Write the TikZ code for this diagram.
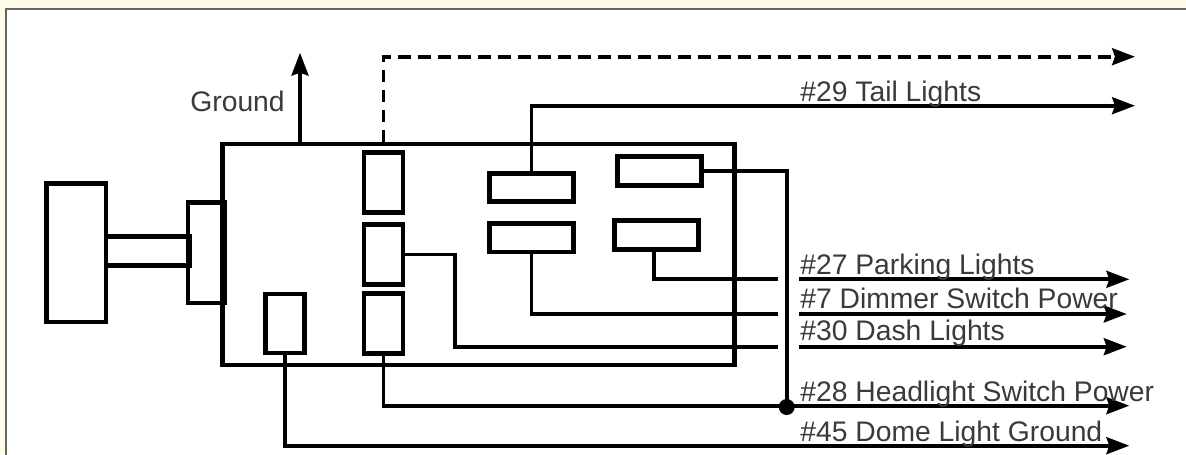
\documentclass[tikz,border=0pt]{standalone}
\usepackage{fontspec}
\setmainfont{Liberation Sans}
\usetikzlibrary{arrows.meta}
\definecolor{cream}{HTML}{FFFBEB}
\definecolor{labelgray}{HTML}{3A3A3A}
\newcommand{\px}{0.02cm}
\tikzset{
    part/.style={draw,line width=2.8pt,inner sep=0pt,outer sep=0pt},
    wire/.style={line width=2.1pt},
    lead/.style={wire,-{Stealth[length=13pt,width=9.6pt,inset=1.6pt]}},
    label/.style={anchor=base west,inner sep=0pt,text=labelgray,font=\fontsize{16.1}{18}\selectfont}
}
\begin{document}
\begin{tikzpicture}[x=0.02cm,y=-0.02cm]
        \useasboundingbox (0,0) rectangle (1186,454);
        %% Page
        \fill[cream] (0,0) rectangle (1186,454);
        \fill[white] (6,9) rectangle (1190,460);
        \draw[line width=0.9pt,black!60] (6,460) |- (1190,9);
        %% Switch body
        \node[part,minimum width=511.6*\px,minimum height=221*\px] (body) at (478.5,254.5) {};
        \node[part,minimum width=59.2*\px,minimum height=138.8*\px] (knob) at (76.4,252.6) {};
        \node[part,minimum width=83.5*\px,minimum height=28.3*\px] (shaft) at (147.75,251) {};
        \node[part,minimum width=36.5*\px,minimum height=100.5*\px] (collar) at (206.25,252.75) {};
        %% Contacts
        \node[part,minimum width=38.7*\px,minimum height=59*\px] (dome) at (285.15,323.5) {};
        \node[part,minimum width=39*\px,minimum height=60*\px] (spare) at (383.5,182.5) {};
        \node[part,minimum width=39*\px,minimum height=59.4*\px] (dash) at (383.5,254.5) {};
        \node[part,minimum width=39*\px,minimum height=59.7*\px] (power) at (383.5,323.65) {};
        \node[part,minimum width=84*\px,minimum height=28.3*\px] (tail) at (531.5,187.35) {};
        \node[part,minimum width=84*\px,minimum height=28.5*\px] (dimmer) at (531.5,237.75) {};
        \node[part,minimum width=84*\px,minimum height=28.7*\px] (head) at (659.5,171.15) {};
        \node[part,minimum width=84*\px,minimum height=29*\px] (park) at (656.8,235.3) {};
        %% Wire ends
        \coordinate (groundstart) at (300,144);
        \coordinate (groundend) at (300,52.7);
        \coordinate (spareend) at (1135,56.7);
        \coordinate (tailend) at (1135,105.7);
        \coordinate (parkgap) at (778,279.3);
        \coordinate (parkstart) at (799,279.3);
        \coordinate (parkend) at (1129.3,279.3);
        \coordinate (dimmergap) at (778,314);
        \coordinate (dimmerstart) at (799,314);
        \coordinate (dimmerend) at (1126.7,314);
        \coordinate (dashbend) at (455,346.7);
        \coordinate (dashgap) at (778,346.7);
        \coordinate (dashstart) at (799,346.7);
        \coordinate (dashend) at (1126.7,346.7);
        \coordinate (powerend) at (1129.3,405.7);
        \coordinate (domeend) at (1129.3,445.7);
        \node[circle,fill=black,minimum size=16*\px,inner sep=0pt] (joint) at (786.7,407) {};
        %% Wires
        \draw[lead] (groundstart) -- (groundend);
        \draw[lead,dash pattern=on 12.5*\px off 7.5*\px,dash phase=9.5*\px] (spare.north) |- (spareend);
        \draw[lead] (tail.north) |- (tailend);
        \draw[wire] ([xshift=-2.8*\px]park.south) |- (parkgap);
        \draw[lead] (parkstart) -- (parkend);
        \draw[wire] (dimmer.south) |- (dimmergap);
        \draw[lead] (dimmerstart) -- (dimmerend);
        \draw[wire] (dash.east) -| (dashbend) -- (dashgap);
        \draw[lead] (dashstart) -- (dashend);
        \draw[lead] (power.south) |- (powerend);
        \draw[lead] (dome.south) |- (domeend);
        \draw[wire] (head.east) -| (joint.center);
        %% Labels
        \node[label] (groundtext) at (190,111.7) {Ground};
        \node[label] (tailtext) at (800,101) {\#29 Tail Lights};
        \node[label] (parktext) at (800,274) {\#27 Parking Lights};
        \node[label] (dimmertext) at (800,308.3) {\#7 Dimmer Switch Power};
        \node[label] (dashtext) at (800,340.7) {\#30 Dash Lights};
        \node[label] (powertext) at (800,401.7) {\#28 Headlight Switch Power};
        \node[label] (dometext) at (800,441) {\#45 Dome Light Ground};
    \end{tikzpicture}
\end{document}
